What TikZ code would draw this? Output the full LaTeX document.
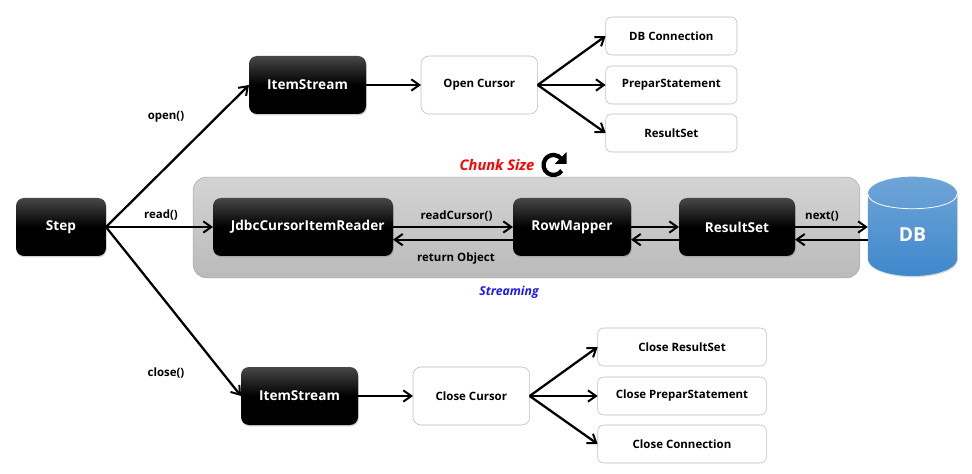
\documentclass[tikz,border=0pt]{standalone}
\usepackage{fontspec}
\setmainfont{Open Sans}
\usetikzlibrary{arrows.meta,positioning,shapes.geometric,shadows}
\definecolor{panelline}{HTML}{A9A9A9}
\definecolor{boxline}{HTML}{BBBBBB}
\definecolor{dbtop}{HTML}{6FA5D8}
\definecolor{dbbottom}{HTML}{3F88CC}
\definecolor{streamblue}{HTML}{1A1AF0}

\begin{document}
\begin{tikzpicture}[
        x=0.75pt,y=-0.75pt,
        font=\fontsize{8.6pt}{10pt}\selectfont\bfseries,
        >={Straight Barb[length=6pt,width=8.5pt,line width=1.5pt]},
        node distance=8.25pt,
        darkbox/.style={rectangle,rounded corners=6pt,top color=black!72,bottom color=black,middle color=black,text=white,minimum height=43.5pt,inner sep=0pt,outer sep=0pt,align=center,font=\fontsize{10.2pt}{12pt}\selectfont\bfseries,drop shadow={shadow xshift=0.6pt,shadow yshift=-1pt,opacity=0.35}},
        cursorbox/.style={rectangle,rounded corners=6pt,draw=boxline,fill=white,minimum width=87.5pt,minimum height=43.5pt,inner sep=0pt,outer sep=0pt,align=center},
        itembox/.style={rectangle,rounded corners=4.5pt,draw=boxline,fill=white,minimum width=98.5pt,minimum height=28.5pt,inner sep=0pt,outer sep=0pt,align=center},
        closebox/.style={itembox,minimum width=126.5pt},
        arrow/.style={->,line width=1.7pt},
        label/.style={inner sep=0pt}
    ]
        \useasboundingbox (0,0) rectangle (972,474);

        % streaming panel
        \node[rectangle,rounded corners=10pt,draw=panelline,top color=black!17,bottom color=black!27,minimum width=500pt,minimum height=75.5pt,inner sep=0pt] (panel) at (526.5,227.5) {};

        \node[darkbox,minimum width=67.5pt] (stepbox) at (61,227) {Step};
        \node[darkbox,minimum width=87.75pt] (openstream) at (307.5,85) {ItemStream};
        \node[cursorbox,right=41.25pt of openstream] (opencursor) {Open Cursor};
        \node[itembox,right=51pt of opencursor] (prepare) {PreparStatement};
        \node[itembox,above=of prepare] (connection) {DB Connection};
        \node[itembox,below=7.5pt of prepare] (resultset) {ResultSet};

        \node[darkbox,minimum width=135pt] (reader) at (303,227) {\hspace*{7pt}JdbcCursorItemReader};
        \node[darkbox,minimum width=88.5pt,right=90pt of reader] (mapper) {RowMapper};
        \node[darkbox,minimum width=87pt,right=36pt of mapper] (rows) {ResultSet};
        \node[cylinder,shape border rotate=90,aspect=1.25,minimum width=67pt,minimum height=74.5pt,inner sep=0pt,outer sep=0pt,top color=dbtop,bottom color=dbbottom,text=white,font=\fontsize{14.5pt}{16pt}\selectfont\bfseries,drop shadow={shadow xshift=0.5pt,shadow yshift=-1pt,opacity=0.3}] (db) at (912.5,235) {DB};
        \draw[white,line width=0.6pt] (db.before top) .. controls ([yshift=-15pt]db.before top) and ([yshift=-15pt]db.after top) .. (db.after top);

        \node[darkbox,minimum width=87.75pt] (closestream) at (299.5,396) {ItemStream};
        \node[cursorbox,right=41.25pt of closestream] (closecursor) {Close Cursor};
        \node[closebox,right=51pt of closecursor] (closeprepare) {Close PreparStatement};
        \node[closebox,above=of closeprepare] (closeresult) {Close ResultSet};
        \node[closebox,below=7.5pt of closeprepare] (closeconnection) {Close Connection};

        \draw[arrow] (stepbox.east) -- (openstream.west);
        \draw[arrow] (stepbox.east) -- (reader.west);
        \draw[arrow] (stepbox.east) -- (closestream.west);

        \draw[arrow] (openstream) -- (opencursor);
        \draw[arrow] (opencursor.east) -- (connection.west);
        \draw[arrow] (opencursor.east) -- (prepare.west);
        \draw[arrow] (opencursor.east) -- (resultset.west);

        \draw[arrow] (closestream) -- (closecursor);
        \draw[arrow] (closecursor.east) -- (closeresult.west);
        \draw[arrow] (closecursor.east) -- (closeprepare.west);
        \draw[arrow] (closecursor.east) -- (closeconnection.west);

        \draw[arrow] (reader.east) -- node[pos=0.53,above=3.5pt,label]{readCursor()} (mapper.west);
        \draw[arrow] ([yshift=-9.5pt]mapper.west) -- node[pos=0.475,below=9.3pt,label]{return Object} ([yshift=-9.5pt]reader.east);
        \draw[arrow] (mapper.east) -- (rows.west);
        \draw[arrow] ([yshift=-9.5pt]rows.west) -- ([yshift=-9.5pt]mapper.east);
        \draw[arrow] (rows.east) -- node[pos=0.37,above=3.5pt,label]{next()} (rows.east -| db.west);
        \draw[arrow] ([yshift=-9.5pt]rows.east -| db.west) -- ([yshift=-9.5pt]rows.east);

        \node[label] (openlabel) at (166,117) {open()};
        \node[label] (readlabel) at (161,215.5) {read()};
        \node[label] (closelabel) at (166,373) {close()};

        \node[label,text=red,font=\fontsize{11pt}{13pt}\selectfont\bfseries\itshape] (chunklabel) at (497,165) {Chunk Size};
        \node[label,text=streamblue,font=\fontsize{9.2pt}{11pt}\selectfont\bfseries\itshape] (streamlabel) at (509,292) {Streaming};

        % reload icon
        \coordinate (reload) at (553.5,165);
        \draw[line width=3.2pt] ([shift={(-35:7.5pt)}]reload) arc[start angle=-35,end angle=-320,radius=7.5pt];
        \fill ([shift={(13,-13)}]reload) -- ([shift={(13,-1)}]reload) -- ([shift={(1,-1)}]reload) -- cycle;
    \end{tikzpicture}
\end{document}
